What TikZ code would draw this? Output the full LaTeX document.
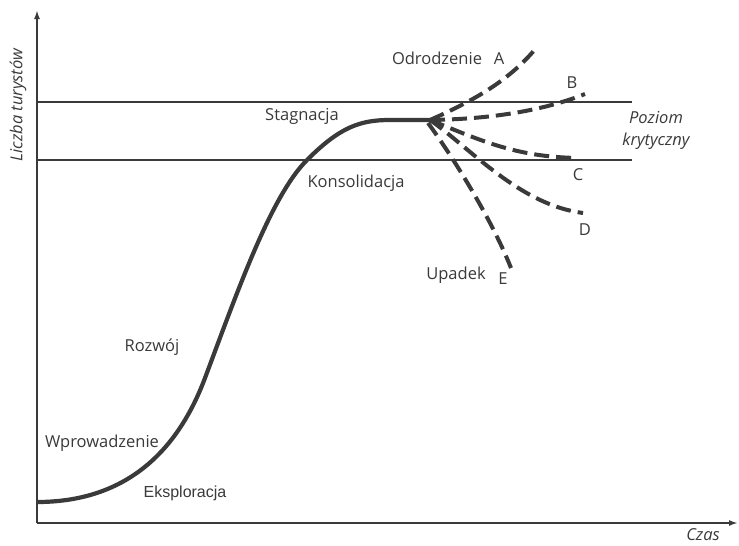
\documentclass[tikz,border=0pt]{standalone}
\usepackage{fontspec}
\setmainfont{Open Sans}
\newfontfamily\arialf{Liberation Sans}
\usetikzlibrary{arrows.meta}
\definecolor{ink}{HTML}{3A3A3A}
\begin{document}
\begin{tikzpicture}[x=1pt,y=-1pt,
  axis/.style={ink,line width=1.8pt,-{Latex[length=9pt,width=6pt]}},
  level/.style={ink,line width=1.4pt},
  main/.style={ink,line width=4.2pt},
  branch/.style={ink,line width=4pt,dash pattern=on 15pt off 7pt},
  lab/.style={text=ink,font=\fontsize{16.5}{18}\selectfont,inner sep=0pt},
  ilab/.style={lab,font=\fontsize{16.5}{18}\selectfont\itshape}]
\useasboundingbox (0,0) rectangle (739,546);
\fill[white] (0,0) rectangle (739,546);
% axes
\coordinate (o) at (37,523);
\coordinate (ytop) at (37,10);
\coordinate (xend) at (738,523);
\draw[axis] (o) -- (ytop);
\draw[axis] (o) -- (xend);
% levels
\coordinate (l1a) at (37,102); \coordinate (l1b) at (632,102);
\coordinate (l2a) at (37,160); \coordinate (l2b) at (632,160);
\draw[level] (l1a) -- (l1b);
\draw[level] (l2a) -- (l2b);
% main curve
\coordinate (s) at (37,502);
\coordinate (m1) at (205,378);
\coordinate (m2) at (307,160);
\coordinate (m3) at (390,120);
\coordinate (p) at (430,120);
\draw[main] (s) .. controls (120,502) and (175,458) .. (m1)
  .. controls (238,290) and (271,196) .. (m2)
  .. controls (340,127) and (360,120) .. (m3) -- (p);
% branches
\coordinate (A) at (537,47);
\coordinate (B) at (585,94);
\coordinate (C) at (578,158);
\coordinate (D) at (583,213);
\coordinate (E) at (511,268);
\coordinate (p2) at (428,123);
\draw[branch] (p) .. controls (475,100) and (510,80) .. (A);
\draw[branch] (p) .. controls (500,119) and (550,108) .. (B);
\draw[branch] (p) .. controls (480,140) and (515,157) .. (C);
\draw[branch] (p) .. controls (470,148) and (520,205) .. (D);
\draw[branch] (p2) .. controls (448,150) and (490,215) .. (E);
% labels
\node[lab] (odr) at (437,58) {Odrodzenie};
\node[lab] (la) at (499,59) {A};
\node[lab] (lb) at (572,83) {B};
\node[lab] (lc) at (578,175) {C};
\node[lab] (ld) at (585,230) {D};
\node[lab] (upa) at (456,275) {Upadek};
\node[lab] (le) at (503,279) {E};
\node[ilab] (poz) at (656,118) {Poziom};
\node[ilab] (kry) at (656,141) {krytyczny};
\node[lab] (sta) at (302,116) {Stagnacja};
\node[lab] (kon) at (356,183) {Konsolidacja};
\node[lab] (roz) at (152,347) {Rozwój};
\node[lab] (wpr) at (102,443) {Wprowadzenie};
\node[lab,font=\arialf\fontsize{16}{18}\selectfont] (eks) at (185,493) {Eksploracja};
\node[ilab,rotate=90] (ylab) at (18,105) {Liczba turystów};
\node[ilab] (xlab) at (703,535) {Czas};
\end{tikzpicture}
\end{document}
